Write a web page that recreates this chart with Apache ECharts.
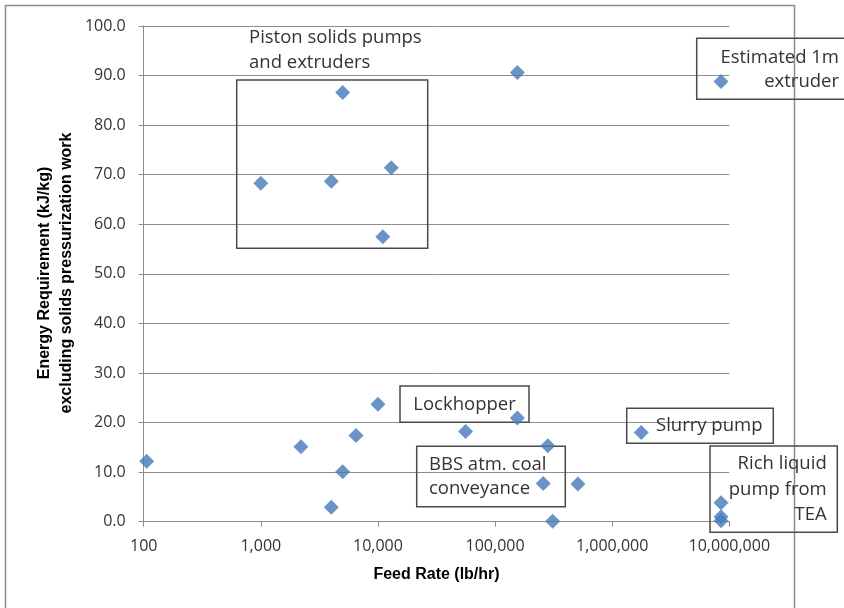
<!DOCTYPE html>
<html>
<head>
<meta charset="utf-8">
<script src="https://cdn.jsdelivr.net/npm/echarts@6/dist/echarts.min.js"></script>
<style>
  html, body { margin: 0; padding: 0; background: #ffffff; }
  #chart { width: 844px; height: 608px; }
</style>
</head>
<body>
<div id="chart"></div>
<script>
// Feed rate (lb/hr) and energy requirement (kJ/kg) of each feeder system
const feedRate = [
  106, 1000, 4000, 5000, 13000, 11000, 155000, 8500000,
  2200, 6500, 10000, 5000, 4000, 56000, 155000, 282000,
  258000, 510000, 310000, 1770000, 8500000, 8500000, 8500000
];
const energy = [
  12.2, 68.3, 68.7, 86.6, 71.4, 57.5, 90.6, 88.8,
  15.1, 17.4, 23.7, 10.1, 2.9, 18.2, 20.9, 15.3,
  7.7, 7.6, 0.1, 18.0, 3.8, 1.0, 0.2
];

// Axis settings
const xMin = 100, xMax = 10000000;
const yMin = 0, yMax = 100, yStep = 10;
const xTitle = 'Feed Rate (lb/hr)';
const yTitle = ['Energy Requirement (kJ/kg)', 'excluding solids pressurization work'];

// Callout texts
const notePiston = ['Piston solids pumps', 'and extruders'];
const noteExtruder = ['Estimated 1m', 'extruder'];
const noteLock = 'Lockhopper';
const noteBBS = ['BBS atm. coal', 'conveyance'];
const noteSlurry = 'Slurry pump';
const noteRich = ['Rich liquid', 'pump from', 'TEA'];

const points = feedRate.map((x, i) => [x, energy[i]]);

const withCommas = v => String(Math.round(v)).replace(/\B(?=(\d{3})+(?!\d))/g, ',');

const GRID = '#8c8c8c';
const BOX = '#4a4a4a';
const NOTE_FONT = '18.5px "Open Sans"';
const NOTE_COLOR = '#333333';

function box(x, y, w, h) {
  return {
    type: 'rect', silent: true, z: 5,
    shape: { x: x, y: y, width: w, height: h },
    style: { fill: 'none', stroke: BOX, lineWidth: 1.5 }
  };
}
function note(text, x, y, align, lh) {
  return {
    type: 'text', silent: true, z: 6,
    x: x, y: y,
    style: {
      text: Array.isArray(text) ? text.join('\n') : text,
      font: NOTE_FONT, fill: NOTE_COLOR,
      align: align, textAlign: align,
      verticalAlign: 'middle', textVerticalAlign: 'middle',
      lineHeight: lh || 25
    }
  };
}

const chart = echarts.init(document.getElementById('chart'), null, { renderer: 'canvas' });

chart.setOption({
  animation: false,
  backgroundColor: '#ffffff',
  grid: { left: 143.7, right: 114.7, top: 26, bottom: 86.3 },
  xAxis: {
    type: 'log', logBase: 10, min: xMin, max: xMax,
    axisLine: { show: true, lineStyle: { color: GRID, width: 1 } },
    axisTick: { show: true, length: 5, lineStyle: { color: GRID } },
    minorTick: { show: false },
    splitLine: { show: false },
    axisLabel: {
      margin: 17, color: '#333333', fontFamily: 'Open Sans', fontSize: 16,
      formatter: withCommas
    }
  },
  yAxis: {
    type: 'value', min: yMin, max: yMax, interval: yStep,
    axisLine: { show: true, lineStyle: { color: GRID, width: 1 } },
    axisTick: { show: true, length: 5, lineStyle: { color: GRID } },
    splitLine: { show: true, lineStyle: { color: GRID, width: 1 } },
    axisLabel: {
      margin: 18, color: '#333333', fontFamily: 'Open Sans', fontSize: 16,
      formatter: v => v.toFixed(1)
    }
  },
  series: [{
    type: 'scatter',
    data: points,
    symbol: 'diamond',
    symbolSize: 15,
    clip: false,
    z: 10,
    itemStyle: { color: '#4679b8' }
  }],
  graphic: [
    // chart area border
    {
      type: 'rect', silent: true, z: 1,
      shape: { x: 5.5, y: 5.5, width: 789, height: 700 },
      style: { fill: 'none', stroke: '#8c8c8c', lineWidth: 1.5 }
    },
    // axis titles
    {
      type: 'text', silent: true, z: 6,
      x: 436.5, y: 575,
      style: {
        text: xTitle, font: 'bold 16px "Liberation Sans"', fill: '#000000',
        align: 'center', textAlign: 'center',
        verticalAlign: 'middle', textVerticalAlign: 'middle'
      }
    },
    {
      type: 'text', silent: true, z: 6,
      x: 55.5, y: 273, rotation: Math.PI / 2,
      style: {
        text: yTitle.join('\n'), font: 'bold 16px "Liberation Sans"', fill: '#000000',
        align: 'center', textAlign: 'center',
        verticalAlign: 'middle', textVerticalAlign: 'middle',
        lineHeight: 22
      }
    },
    // callouts
    box(236.7, 80, 191, 168.3),
    note(notePiston, 249, 50.5, 'left', 25),
    box(696.7, 38.3, 150, 61),
    note(noteExtruder, 839, 70, 'right', 24),
    box(400, 386, 129, 36.3),
    note(noteLock, 464.5, 404.5, 'center'),
    box(416.7, 446.3, 148.6, 60.4),
    note(noteBBS, 429, 477, 'left', 24),
    box(626.7, 408.3, 146.6, 35),
    note(noteSlurry, 656, 426, 'left'),
    box(710, 446, 127.3, 86.3),
    note(noteRich, 826.7, 489.5, 'right', 25.5)
  ]
});
</script>
</body>
</html>
